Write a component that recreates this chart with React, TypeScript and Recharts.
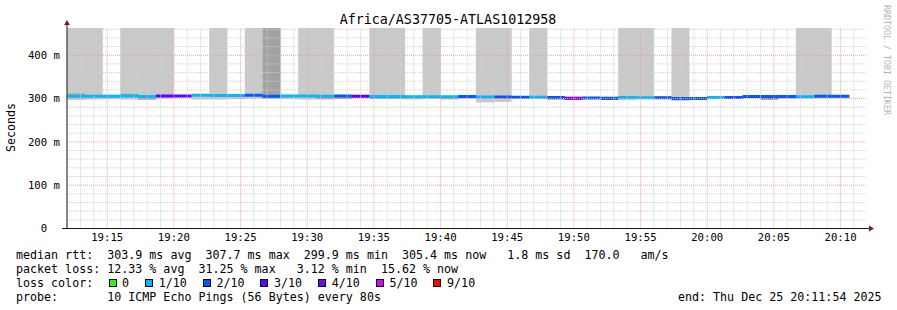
import React from 'react';
import { ComposedChart, Bar, Cell, Line, XAxis, YAxis, ReferenceLine } from 'recharts';

const FONT = '"DejaVu Sans Mono", monospace';
const TOP = 463; // smoke that runs off the top of the graph

// one entry per 80 s step, 19:11:59 .. 20:11:59 (last step has no data)
const slotMedian = [
  305.5, 305.5, 305.5, 306, 305, 306, 306, 307.5, 307, 307,
  307.7, 305.5, 306, 306, 305.5, 306, 305.5, 304.5, 304.5, 304,
  304, 304, 304.5, 303.5, 303.5, 303, 303, 302.5, 301, 301.5,
  300.5, 302.5, 302, 302, 299.9, 300.3, 302.5, 302.5, 305, 305,
  304.5, 304, 305.5, 305.4, null,
];
// pings lost out of 10
const slotLoss = [
  1, 1, 1, 1, 1, 3, 3, 1, 1, 1,
  2, 2, 1, 1, 1, 2, 3, 1, 1, 1,
  1, 1, 2, 1, 2, 2, 1, 2, 4, 2,
  2, 1, 1, 2, 2, 2, 1, 2, 2, 2,
  2, 1, 2, 2, null,
];
const smokeLow = [
  297, 298, 299, 298, 297, 300, 303, 298, 298, 299,
  300, 300, 299, 298, 298, 299, 303, 299, 299, 298,
  299, 298, 302, 291, 292, 301, 299, 299, 299, 300,
  299, 296, 299, 300, 298, 299, 300, 299, 302, 298,
  301, 301, 301, 301, null,
];
const smokeHigh = [
  TOP, TOP, 309, TOP, TOP, TOP, 308, 310, TOP, 310,
  TOP, TOP, 309, TOP, TOP, 309, 308, TOP, TOP, 307,
  TOP, 306, 307, TOP, TOP, 305, TOP, 305, 304, 303,
  302, TOP, TOP, 306, TOP, 302, 304, 305, 307, 307,
  306, TOP, TOP, 306, null,
];
const midLow = [
  305, null, null, 306, 298, null, null, null, null, null,
  null, 300, null, null, 299, 299, null, 299, 299, null,
  null, 299, null, null, null, null, null, null, null, null,
  null, null, null, null, null, null, null, null, null, null,
  null, null, null, null, null,
];
const midHigh = [
  312, null, null, 311, 304, null, null, null, null, null,
  null, TOP, null, null, 303, 303, null, 303, 303, null,
  null, 302, null, null, null, null, null, null, null, null,
  null, null, null, null, null, null, null, null, null, null,
  null, null, null, null, null,
];
const deepLow = [
  null, null, null, null, null, null, null, null, null, null,
  null, null, null, null, null, null, null, null, null, null,
  null, null, null, null, null, null, null, 298, 297, null,
  null, null, null, null, null, null, null, null, null, 298,
  null, null, null, null, null,
];
const deepHigh = [
  null, null, null, null, null, null, null, null, null, null,
  null, null, null, null, null, null, null, null, null, null,
  null, null, null, null, null, null, null, 301, 300, null,
  null, null, null, null, null, null, null, null, null, 302,
  null, null, null, null, null,
];

const lossLabels = ['0', '1/10', '2/10', '3/10', '4/10', '5/10', '9/10'];
const lossCounts = [0, 1, 2, 3, 4, 5, 9];
const lossColors = ['#26ff00', '#00b8ff', '#0059ff', '#5e00ff', '#7e00ff', '#dd00ff', '#ff0000'];

const STEP = 80;
const START = 19 * 3600 + 11 * 60 + 59;
const timeTickLabels = ['19:15', '19:20', '19:25', '19:30', '19:35', '19:40', '19:45', '19:50', '19:55', '20:00', '20:05', '20:10'];
const yTickValues = [0, 100, 200, 300, 400];
const yTickLabels = ['0  ', '100 m', '200 m', '300 m', '400 m'];

const statLines = [
  'median rtt:  303.9 ms avg  307.7 ms max  299.9 ms min  305.4 ms now   1.8 ms sd  170.0   am/s',
  'packet loss: 12.33 % avg  31.25 % max   3.12 % min  15.62 % now',
];
const probeLine = 'probe:       10 ICMP Echo Pings (56 Bytes) every 80s';
const endLine = 'end: Thu Dec 25 20:11:54 2025';

const toOffset = (hhmm: string) => {
  const [h, m] = hhmm.split(':').map(Number);
  return h * 3600 + m * 60 - START;
};
const timeTicks = timeTickLabels.map(toOffset);
const minuteLines = Array.from({ length: 60 }, (_, k) => 19 * 3600 + 12 * 60 + 60 * k - START).filter(
  (v) => !timeTicks.includes(v)
);
const minorY = Array.from({ length: 23 }, (_, k) => 20 * (k + 1)).filter((v) => v % 100 !== 0);

const lossColor = (n: number | null) => (n == null ? 'none' : lossColors[lossCounts.indexOf(n)]);

const HALF = 3.5; // half thickness of the median line, in ms
const rows = slotMedian.map((m, i) => ({
  slot: i,
  t: i * STEP + STEP / 2,
  m,
  light: smokeLow[i] == null ? null : [smokeLow[i], smokeHigh[i]],
  mid: midLow[i] == null ? null : [midLow[i], midHigh[i]],
  deep: deepLow[i] == null ? null : [deepLow[i], deepHigh[i]],
  median: m == null ? null : [m - HALF, m + HALF],
}));

const YTick = (props: any) => {
  const { x, y, payload } = props;
  const label = yTickLabels[yTickValues.indexOf(payload.value)];
  return (
    <text x={x} y={y} dy="0.35em" textAnchor="end" fontFamily={FONT} fontSize={10.67} fill="#000" style={{ whiteSpace: 'pre' }}>
      {label}
    </text>
  );
};

const XTick = (props: any) => {
  const { x, y, payload } = props;
  const label = timeTickLabels[timeTicks.indexOf(payload.value)];
  return (
    <text x={x} y={y} dy="0.35em" textAnchor="middle" fontFamily={FONT} fontSize={10.67} fill="#000">
      {label}
    </text>
  );
};

const MINOR = '#cfcfcf';
const MAJOR = '#f0a0a0';
const ARROW = '#7f1d1d';

export default function App() {
  const textRow = (top: number): React.CSSProperties => ({
    position: 'absolute',
    left: 16,
    top,
    lineHeight: '14px',
    fontSize: 11.67,
    fontFamily: FONT,
    whiteSpace: 'pre',
    color: '#000',
  });

  return (
    <div style={{ position: 'absolute', left: 0, top: 0, width: 897, height: 310, background: '#fff', overflow: 'hidden' }}>
      <ComposedChart
        width={897}
        height={310}
        data={rows}
        margin={{ top: 28, right: 30, bottom: 61.5, left: 0 }}
        barCategoryGap={0}
        barGap={0}
      >
        <XAxis
          xAxisId="time"
          dataKey="t"
          type="number"
          domain={[0, 3600]}
          allowDataOverflow
          ticks={timeTicks}
          height={20}
          tickLine={false}
          tickSize={0}
          tickMargin={9}
          axisLine={{ stroke: '#1a1a1a' }}
          tick={XTick}
        />
        <XAxis xAxisId="smoke" dataKey="slot" type="category" hide height={0} />
        <XAxis xAxisId="mid" dataKey="slot" type="category" hide height={0} />
        <XAxis xAxisId="deep" dataKey="slot" type="category" hide height={0} />
        <XAxis xAxisId="med" dataKey="slot" type="category" hide height={0} />
        <YAxis
          type="number"
          domain={[0, TOP]}
          allowDataOverflow
          ticks={yTickValues}
          width={67}
          tickLine={false}
          tickSize={0}
          tickMargin={7}
          axisLine={{ stroke: '#1a1a1a' }}
          tick={YTick}
        />
        <Bar xAxisId="smoke" dataKey="light" fill="#c9c9c9" isAnimationActive={false} />
        <Bar xAxisId="mid" dataKey="mid" fill="#a2a2a2" isAnimationActive={false} />
        <Bar xAxisId="deep" dataKey="deep" fill="#707070" isAnimationActive={false} />
        <Bar xAxisId="med" dataKey="median" isAnimationActive={false}>
          {rows.map((r, i) => (
            <Cell key={`m-${i}`} fill={lossColor(slotLoss[i])} />
          ))}
        </Bar>
        {/* invisible series so the time axis owns data */}
        <Line
          xAxisId="time"
          dataKey="m"
          stroke="none"
          dot={false}
          activeDot={false}
          legendType="none"
          isAnimationActive={false}
        />
        {minuteLines.map((v) => (
          <ReferenceLine key={`vx-${v}`} xAxisId="time" x={v} stroke={MINOR} strokeDasharray="1 1" />
        ))}
        {minorY.map((v) => (
          <ReferenceLine key={`hy-${v}`} xAxisId="time" y={v} stroke={MINOR} strokeDasharray="1 1" />
        ))}
        {timeTicks.map((v) => (
          <ReferenceLine key={`VX-${v}`} xAxisId="time" x={v} stroke={MAJOR} strokeDasharray="1 1" />
        ))}
        {[100, 200, 300, 400].map((v) => (
          <ReferenceLine key={`HY-${v}`} xAxisId="time" y={v} stroke={MAJOR} strokeDasharray="1 1" />
        ))}
      </ComposedChart>

      <svg width={897} height={310} style={{ position: 'absolute', left: 0, top: 0, pointerEvents: 'none' }}>
        <text x={448} y={19.5} textAnchor="middle" dominantBaseline="central" fontFamily={FONT} fontSize={13.33} fill="#000">
          Africa/AS37705-ATLAS1012958
        </text>
        <text
          transform="translate(10.5,127.5) rotate(-90)"
          textAnchor="middle"
          dominantBaseline="central"
          fontFamily={FONT}
          fontSize={11.67}
          fill="#000"
        >
          Seconds
        </text>
        <text
          transform="translate(887,60) rotate(90)"
          textAnchor="middle"
          dominantBaseline="central"
          fontFamily={FONT}
          fontSize={8.3}
          fill="#b4b4b4"
        >
          RRDTOOL / TOBI OETIKER
        </text>
        <line x1={67} y1={23} x2={67} y2={28} stroke="#1a1a1a" />
        <polygon points="64,25 70,25 67,20" fill={ARROW} />
        <line x1={62} y1={228.5} x2={67} y2={228.5} stroke="#1a1a1a" />
        <line x1={867} y1={228.5} x2={870} y2={228.5} stroke="#1a1a1a" />
        <polygon points="869,225.5 869,231.5 874,228.5" fill={ARROW} />
      </svg>

      <div style={textRow(247.5)}>{statLines[0]}</div>
      <div style={textRow(261.5)}>{statLines[1]}</div>
      <div style={{ ...textRow(275.5), display: 'flex', alignItems: 'center' }}>
        <span>loss color:</span>
        <span style={{ display: 'flex', alignItems: 'center', position: 'absolute', left: 92.5, top: 0, height: 14 }}>
          {lossLabels.map((l, i) => (
            <span key={l} style={{ display: 'flex', alignItems: 'center', marginRight: 16 }}>
              <span
                style={{
                  display: 'inline-block',
                  width: 6,
                  height: 6,
                  border: '1px solid #000',
                  background: lossColors[i],
                  marginRight: 5.6,
                }}
              />
              <span>{l}</span>
            </span>
          ))}
        </span>
      </div>
      <div style={textRow(289.5)}>{probeLine}</div>
      <div style={{ ...textRow(289.5), left: 678, width: 210 }}>{endLine}</div>
    </div>
  );
}
